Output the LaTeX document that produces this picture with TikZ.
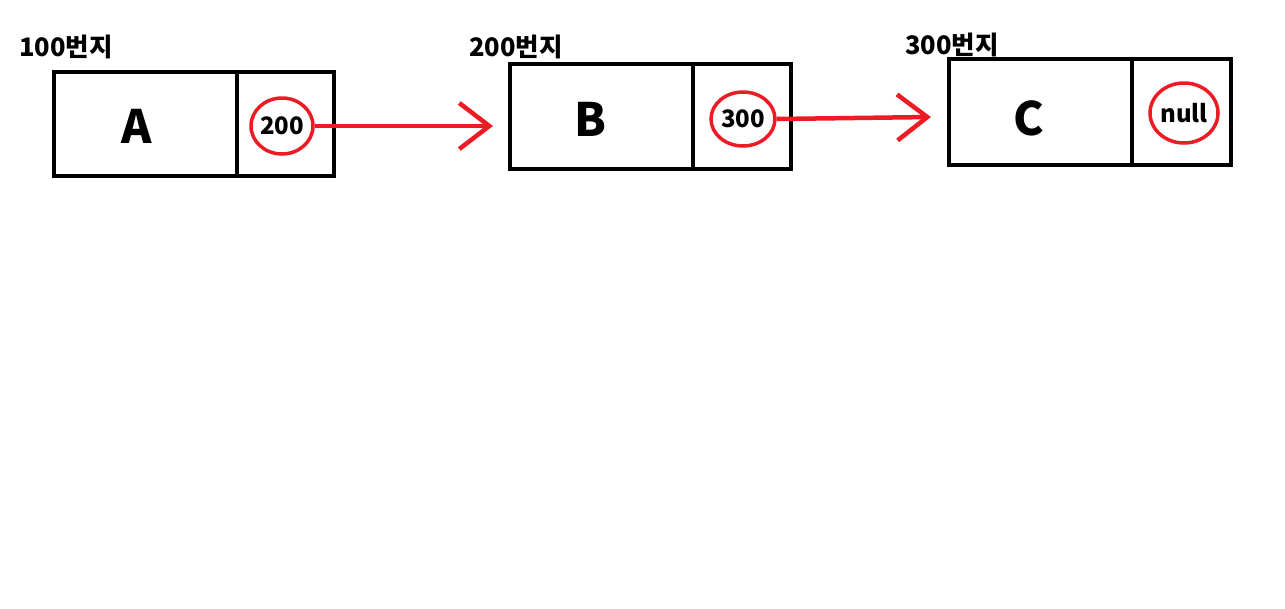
\documentclass[tikz,border=0pt]{standalone}
\usepackage{fontspec}
\setmainfont{Noto Sans CJK KR}
\usetikzlibrary{arrows.meta,shapes.geometric}
\definecolor{pred}{HTML}{ED1C24}
\begin{document}
\begin{tikzpicture}[x=1pt,y=-1pt,
  cell/.style={draw=black,line width=4pt,rectangle,inner sep=0pt,minimum height=104pt},
  big/.style={font=\fontsize{46}{46}\selectfont\bfseries},
  ring/.style={draw=pred,line width=3.5pt,ellipse,inner sep=0pt,font=\fontsize{24}{24}\selectfont\bfseries},
  addr/.style={anchor=base west,inner sep=0pt,font=\fontsize{25.5}{25.5}\selectfont\bfseries},
  link/.style={draw=pred,line width=4.5pt,-{Straight Barb[length=30pt,width=46pt,line width=4.5pt]}}]
\useasboundingbox (0,0) rectangle (1285,608);
% node A
\node[cell,minimum width=183pt] (adata) at (145.5,124) {};
\node[cell,minimum width=97pt] (aptr) at (285.5,124) {};
\node[big] (atext) at (137,126) {A};
\node[ring,minimum width=62pt,minimum height=56pt] (pa) at (282,126) {200};
\node[addr] (la) at (19,56) {100번지};
% node B
\node[cell,minimum width=183pt,minimum height=105pt] (bdata) at (601.5,116.5) {};
\node[cell,minimum width=98pt,minimum height=105pt] (bptr) at (742,116.5) {};
\node[big] (btext) at (590,119) {B};
\node[ring,minimum width=64pt,minimum height=54pt] (pb) at (743,119) {300};
\node[addr] (lb) at (469,56) {200번지};
% node C
\node[cell,minimum width=183pt,minimum height=106pt] (cdata) at (1040.5,112) {};
\node[cell,minimum width=99pt,minimum height=106pt] (cptr) at (1181.5,112) {};
\node[big] (ctext) at (1029,118) {C};
\node[ring,minimum width=68pt,minimum height=60pt] (pc) at (1184,113) {null};
\node[addr] (lc) at (905,54) {300번지};
% links
\coordinate (tipab) at (493,126);
\coordinate (tipbc) at (931,117);
\draw[link] (pa.east) -- (tipab);
\draw[link] (pb.east) -- (tipbc);
\end{tikzpicture}
\end{document}
